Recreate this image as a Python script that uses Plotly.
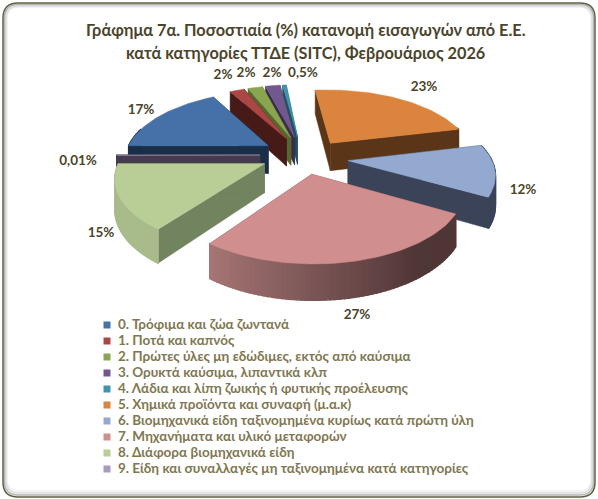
import numpy as np
import plotly.graph_objects as go

categories = ["0. Τρόφιμα και ζώα ζωντανά", "1. Ποτά και καπνός",
              "2. Πρώτες ύλες μη εδώδιμες, εκτός από καύσιμα",
              "3. Ορυκτά καύσιμα, λιπαντικά κλπ",
              "4. Λάδια και λίπη ζωικής ή φυτικής προέλευσης",
              "5. Χημικά προϊόντα και συναφή (μ.α.κ)",
              "6. Βιομηχανικά είδη ταξινομημένα κυρίως κατά πρώτη ύλη",
              "7. Μηχανήματα και υλικό μεταφορών",
              "8. Διάφορα βιομηχανικά είδη",
              "9. Είδη και συναλλαγές μη ταξινομημένα κατά κατηγορίες"]
values = [17, 2, 2, 2, 0.5, 23, 12, 27, 15, 0.01]
value_labels = ["17%", "2%", "2%", "2%", "0,5%", "23%", "12%", "27%", "15%", "0,01%"]
top_colors = ["#4571A8", "#AA4643", "#89A54E", "#71588F", "#3D96AE",
              "#DB843D", "#93A9CF", "#D08F8E", "#B9CD96", "#A99BBD"]
radial_colors = ["#1B2E47", "#451A17", "#55682F", "#3A2C4C", "#20505E",
                 "#5A3518", "#3A4358", "#6E4F4F", "#71835F", "#443C4E"]
arc_left = ["#1B2E47", "#6E2A28", "#55682F", "#3A2C4C", "#20505E",
            "#5A3518", "#54617C", "#A87676", "#A9BB8A", "#443C4E"]
arc_right = ["#1B2E47", "#451A17", "#55682F", "#3A2C4C", "#20505E",
             "#5A3518", "#3A4358", "#503636", "#6F815C", "#443C4E"]
label_x = [141, 223, 246, 272, 303, 424, 523, 357, 101, 78]
label_y = [111, 76, 74, 74, 74, 88, 191, 316, 234, 162]
slice_nudge_x = [2, 3, 3, 2, 2, 8, 8, 3, 1, 0]
slice_nudge_y = [0, 0, 0, 0, 0, 3, 3, 0, 0, 0]

W, H = 598, 499
CX, CY = 300, 155          # pie centre in pixels
A, B = 143, 67             # horizontal / vertical radius
K = 0.17                   # perspective strength
EXPLODE = 0.28
THICK = 28.5
START = -90.0              # degrees clockwise from north
TEXT = "#4A452A"
LEG = "#7F7750"


def proj(u, v, z=0.0):
    s = 1.0 / (1.0 + K * v)
    return CX + A * u * s, CY - B * v * s + THICK * z * s


def poly(fig, xs, ys, color, i, lw=0.5):
    fig.add_trace(go.Scatter(x=np.asarray(xs) + slice_nudge_x[i],
                             y=np.asarray(ys) + slice_nudge_y[i],
                             mode="lines", fill="toself", fillcolor=color,
                             line=dict(color=color, width=lw), hoverinfo="skip",
                             showlegend=False))


def mix(c1, c2, t):
    a = [int(c1[i:i + 2], 16) for i in (1, 3, 5)]
    b = [int(c2[i:i + 2], 16) for i in (1, 3, 5)]
    return "#%02x%02x%02x" % tuple(round(a[i] + (b[i] - a[i]) * t) for i in range(3))


def rrect(x0, y0, x1, y1, r):
    return (f"M {x0 + r} {y0} H {x1 - r} Q {x1} {y0} {x1} {y0 + r} V {y1 - r} "
            f"Q {x1} {y1} {x1 - r} {y1} H {x0 + r} Q {x0} {y1} {x0} {y1 - r} "
            f"V {y0 + r} Q {x0} {y0} {x0 + r} {y0} Z")


fig = go.Figure()
total = sum(values)
fracs = np.array(values) / total
edges = START + 360 * np.concatenate([[0], np.cumsum(fracs)])
slices = []
for i in range(len(values)):
    a0, a1 = edges[i], edges[i + 1]
    mid = np.radians((a0 + a1) / 2)
    ox, oy = EXPLODE * np.sin(mid), EXPLODE * np.cos(mid)
    if a1 - a0 < 1:                # the tiny slice still shows as a thin sheet
        a0, a1 = a0 - 0.2, a1 + 0.2
    slices.append((oy, i, a0, a1, ox, oy))

# painter's order: far slices first
for depth, i, a0, a1, ox, oy in sorted(slices, key=lambda s: -s[0]):
    th = np.radians(np.linspace(a0, a1, max(3, int((a1 - a0) / 1.5))))
    u = ox + np.sin(th)
    v = oy + np.cos(th)
    ax, ay = proj(ox, oy)
    for k in (0, -1):
        x0, y0 = proj(u[k], v[k])
        x1, y1 = proj(u[k], v[k], 1)
        bx, by = proj(ox, oy, 1)
        poly(fig, [ax, x0, x1, bx, ax], [ay, y0, y1, by, ay], radial_colors[i], i)
    for j in range(len(th) - 1):
        if np.cos(th[j]) > 0.25 and np.cos(th[j + 1]) > 0.25:
            continue
        x0, y0 = proj(u[j], v[j]); x1, y1 = proj(u[j + 1], v[j + 1])
        x2, y2 = proj(u[j + 1], v[j + 1], 1); x3, y3 = proj(u[j], v[j], 1)
        t = 1 - (np.sin(th[j]) + 1) / 2
        poly(fig, [x0, x1, x2, x3, x0], [y0, y1, y2, y3, y0],
             mix(arc_right[i], arc_left[i], min(1, max(0, (t - 0.2) / 0.6))), i, lw=1.5)
    px, py = proj(u, v)
    poly(fig, [ax, *px, ax], [ay, *py, ay], top_colors[i], i)

LEG_X, LEG_Y, LEG_STEP = 107, 325, 16.0
rows = LEG_Y + LEG_STEP * np.arange(len(categories))
fig.add_trace(go.Scatter(x=[LEG_X] * len(categories), y=rows, mode="markers",
                         marker=dict(symbol="square", size=7, color=top_colors),
                         hoverinfo="skip", showlegend=False))
fig.add_trace(go.Scatter(x=[LEG_X + 11] * len(categories), y=rows + 1, mode="text",
                         text=categories, textposition="middle right",
                         textfont=dict(family="Lato", size=13.5, color=LEG, weight="bold"),
                         hoverinfo="skip", showlegend=False))

fig.add_trace(go.Scatter(x=label_x, y=label_y, mode="text", text=value_labels,
                         textposition="middle center",
                         textfont=dict(family="Lato", size=13.5, color=TEXT, weight="bold"),
                         hoverinfo="skip", showlegend=False))

frame_lines = [(rrect(7, 7, 591, 491, 12), "#F0F0F0", 1.5),
               (rrect(6, 6, 592, 493, 13), "#DDDDDD", 1.5),
               (rrect(4.5, 4.5, 593.5, 495, 14), "#B4B4B4", 1.5),
               (rrect(3, 3, 595, 497, 15), "#5F5F45", 1.5)]
fig.update_layout(
    width=W, height=H, autosize=False, margin=dict(l=0, r=0, t=0, b=0),
    paper_bgcolor="white", plot_bgcolor="white", showlegend=False,
    xaxis=dict(range=[0, W], visible=False, fixedrange=True),
    yaxis=dict(range=[H, 0], visible=False, fixedrange=True),
    shapes=[dict(type="path", path=p, line=dict(color=c, width=w),
                 fillcolor="rgba(0,0,0,0)", layer="above") for p, c, w in frame_lines],
    annotations=[dict(x=305.5, y=yy, xref="x", yref="y", showarrow=False, align="center",
                      text=f"<b>{t}</b>", font=dict(family="Lato", size=16.3, color=TEXT))
                 for t, yy in [("Γράφημα 7α. Ποσοστιαία (%) κατανομή εισαγωγών από Ε.Ε.", 29),
                               ("κατά κατηγορίες ΤΤΔΕ (SITC), Φεβρουάριος 2026", 52)]],
)
fig.write_html("out.html", default_width="598px", default_height="499px",
               config={"displayModeBar": False},
               post_script="document.body.style.margin='0';")
